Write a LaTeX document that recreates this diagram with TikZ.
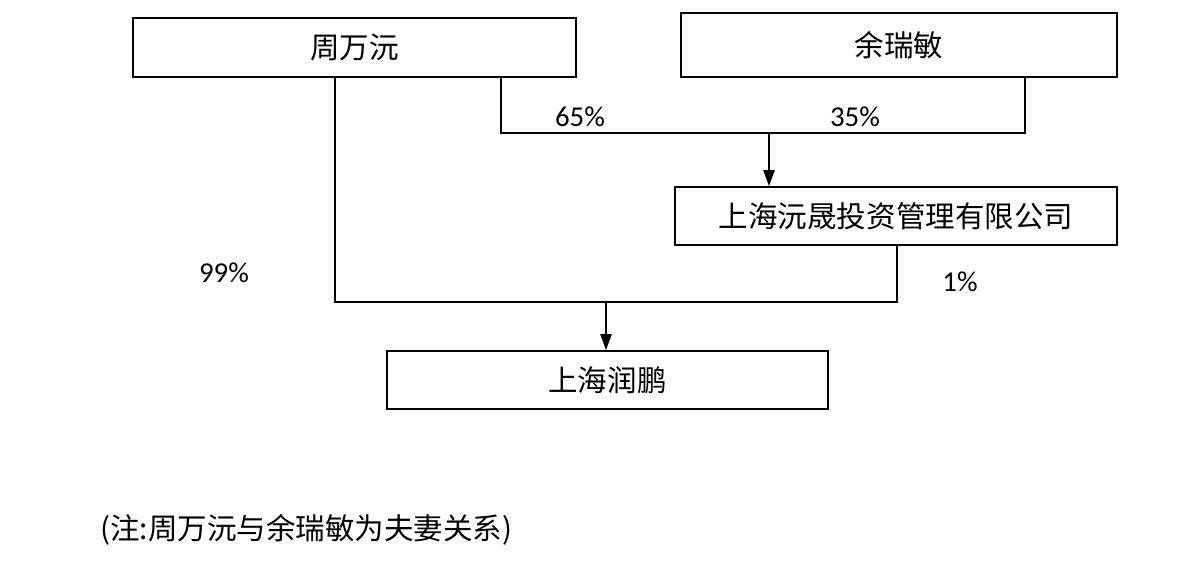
\documentclass[tikz,border=0pt]{standalone}
\usepackage{fontspec}
\setmainfont{Carlito}
\newfontfamily\cjk{Noto Sans CJK SC}
\usetikzlibrary{arrows.meta}

\begin{document}
\begin{tikzpicture}[x=0.025cm,y=-0.025cm,
  box/.style={draw,line width=1.2pt,fill=white,inner sep=0pt,minimum height=1.45cm,font=\cjk\fontsize{21}{24}\selectfont},
  pct/.style={font=\fontsize{20.5}{24}\selectfont},
  link/.style={line width=1.2pt},
  tip/.style={link,-{Triangle[length=4mm,width=2.8mm]}}]

\useasboundingbox (0,0) rectangle (1200,577);

% holders
\node[box,minimum width=11.08cm,minimum height=1.48cm] (zhou) at (354.5,47.5) {周万沅};
\node[box,minimum width=10.9cm,minimum height=1.6cm] (yu) at (899,45) {余瑞敏};
\node[box,minimum width=11.05cm] (ys) at (896,216) {上海沅晟投资管理有限公司};
\node[box,minimum width=11.03cm] (rp) at (607.5,380) {上海润鹏};

% upper bar
\coordinate (a65) at (501,133);
\coordinate (a35) at (1025,133);
\coordinate (amid) at (769,133);
\draw[link] (zhou.south -| a65) -- (a65) -- (a35) -- (yu.south -| a35);
\draw[tip] (amid) -- (ys.north -| amid);
\node[pct] (p65) at (580,117) {65\%};
\node[pct] (p35) at (855,117) {35\%};

% lower bar
\coordinate (b99) at (335,302);
\coordinate (b1) at (897,302);
\coordinate (bmid) at (606,302);
\draw[link] (zhou.south -| b99) -- (b99) -- (b1) -- (ys.south -| b1);
\draw[tip] (bmid) -- (rp.north -| bmid);
\node[pct] (p99) at (224,273) {99\%};
\node[pct] (p1) at (960,282) {1\%};

% note
\node[anchor=west,inner sep=0pt,font=\cjk\fontsize{21}{24}\selectfont] (note) at (100,530) {(注:周万沅与余瑞敏为夫妻关系)};

\end{tikzpicture}
\end{document}
